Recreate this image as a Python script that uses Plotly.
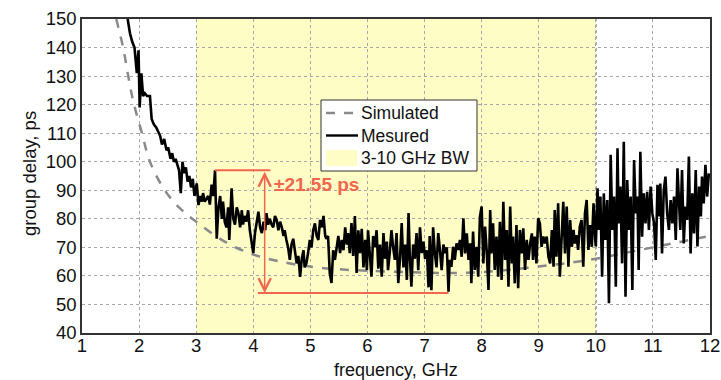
import plotly.graph_objects as go

# ---------------- data ----------------
sim_freq = [1.60, 1.72, 1.81, 1.90, 2.05, 2.19, 2.45, 2.70, 3.00, 3.50, 4.00, 4.60, 5.20,
            6.00, 7.00, 7.50, 8.00, 8.50, 9.00, 9.50, 10.0, 10.5, 11.0, 11.5, 12.0]
sim_delay = [150, 140, 130, 121, 110, 100, 90, 84, 79, 72, 67.5, 64.5, 62.8,
             61.8, 61.2, 61.0, 61.3, 62.2, 63.3, 64.5, 66.0, 68.0, 70.0, 72.0, 74.0]

meas_freq_a = [1.80, 1.84, 1.88, 1.92, 1.96, 1.99, 2.01, 2.04, 2.07, 2.10, 2.14, 2.19, 2.22,
               2.26, 2.30, 2.34, 2.37, 2.40, 2.44, 2.48, 2.51, 2.55, 2.58, 2.61, 2.64, 2.67,
               2.70, 2.73, 2.76, 2.79, 2.82, 2.85, 2.88, 2.91, 2.94, 2.97]
meas_delay_a = [150, 145, 142, 140, 131, 139, 119, 131, 123, 124, 123, 123, 115,
                113, 112, 110, 109, 106, 108, 104, 105, 101, 103, 100, 101, 99,
                97, 89, 100, 96, 98, 93, 95, 91, 94, 88]

meas_freq_b = [3.01, 3.04, 3.07, 3.10, 3.12, 3.15, 3.18, 3.21, 3.24, 3.27, 3.30, 3.33, 3.36,
               3.39, 3.42, 3.45, 3.47, 3.50, 3.53, 3.56, 3.58, 3.62, 3.65, 3.68, 3.71, 3.74,
               3.77, 3.80, 3.82, 3.85, 3.88, 3.91, 3.94, 3.97, 4.00, 4.03, 4.06, 4.09, 4.12,
               4.15, 4.18, 4.21, 4.23, 4.26, 4.29, 4.32, 4.35, 4.38, 4.41, 4.44, 4.47, 4.50,
               4.53, 4.55, 4.58, 4.61, 4.64, 4.67, 4.70, 4.73, 4.76, 4.79, 4.82, 4.85, 4.88,
               4.90, 4.93, 4.96, 4.99, 5.02, 5.05, 5.08, 5.11, 5.14]
meas_delay_b = [92.4, 84.8, 88, 86, 89, 86, 87, 88, 85, 92, 88, 97, 73,
                84, 88, 80, 86, 79, 77, 84, 72.6, 90.7, 80, 78, 84, 82,
                77, 83, 78, 81, 79, 83, 76, 72.6, 68, 75, 79, 82.5, 77,
                75, 79, 76, 82, 78, 80, 78, 77, 81, 79.6, 76, 79, 77,
                74, 76, 72.6, 70, 65.6, 71, 73, 68, 64.4, 67, 59.7, 66, 69,
                63, 64.4, 68, 72.6, 70, 76, 78.4, 74, 72.6]

meas_freq_c = [5.17, 5.20, 5.23, 5.26, 5.28, 5.31, 5.34, 5.37, 5.40, 5.43, 5.46, 5.49, 5.52,
               5.55, 5.58, 5.61, 5.64, 5.66, 5.69, 5.72, 5.75, 5.78, 5.81, 5.84, 5.87, 5.90,
               5.93, 5.96, 5.99, 6.01, 6.04, 6.07, 6.10, 6.13, 6.16, 6.19, 6.22, 6.25, 6.28,
               6.31, 6.34, 6.36, 6.39, 6.42, 6.45, 6.48, 6.51, 6.54, 6.57, 6.60, 6.63, 6.66,
               6.69, 6.72, 6.74, 6.77, 6.80, 6.83, 6.86, 6.89, 6.92, 6.95, 6.98, 7.01, 7.04,
               7.07, 7.09, 7.12, 7.15, 7.18, 7.21, 7.24, 7.27, 7.30, 7.33, 7.36, 7.39, 7.42,
               7.44]
meas_delay_c = [79.6, 77, 81, 74, 73, 74, 61, 57.5, 69, 65.6, 70, 74, 68,
                72.6, 69, 77, 71, 75, 68, 78.5, 67, 81, 61, 76, 68, 76.5,
                63, 72.6, 62, 76, 68, 59.7, 74, 70, 76, 62.5, 71, 59.7, 75,
                66, 72, 62, 68, 76, 70, 65.6, 75, 57.5, 66, 78.5, 63, 71,
                58.6, 82, 68, 56.2, 71, 66, 75, 62, 77, 68, 72, 66, 69,
                56, 74, 55, 77, 68, 63, 75, 69, 62, 71, 68, 70, 54.5,
                65.6]

meas_freq_d = [7.47, 7.50, 7.53, 7.56, 7.59, 7.62, 7.65, 7.68, 7.71, 7.74, 7.77, 7.80, 7.82,
               7.85, 7.88, 7.91, 7.94, 7.97, 8.00, 8.03, 8.06, 8.09, 8.12, 8.15, 8.17, 8.20,
               8.23, 8.26, 8.29, 8.32, 8.35, 8.38, 8.41, 8.44, 8.47, 8.50, 8.53, 8.55, 8.58,
               8.61, 8.64, 8.67, 8.70, 8.73, 8.76, 8.79, 8.82, 8.85, 8.88, 8.90, 8.93, 8.96,
               8.99, 9.02, 9.05, 9.08, 9.11, 9.14, 9.17, 9.20, 9.23, 9.26, 9.28, 9.31, 9.34,
               9.37, 9.40, 9.43, 9.46, 9.49, 9.52, 9.55, 9.58, 9.61, 9.63, 9.66, 9.69, 9.72,
               9.75, 9.78, 9.81, 9.84, 9.87, 9.90, 9.93, 9.96, 9.99]
meas_delay_d = [63.2, 70.2, 65.6, 71.4, 69.1, 72.6, 66.7, 80.2, 67.9, 74.9, 65.6, 71.4, 57.4,
                75.5, 62.1, 70.2, 59.7, 80.8, 84.3, 64.4, 77.3, 68.5, 55.1, 83.1, 67.9, 78.4,
                62.1, 73.8, 59.7, 79, 58.6, 86, 65.6, 76.1, 56.2, 84.3, 64.4, 73.8, 57.4,
                77.8, 55.7, 76.1, 67.9, 76.7, 62.1, 72.6, 65.6, 71.4, 74.9, 65.6, 73.8, 64.4,
                80.2, 78.4, 70.2, 73.8, 71.4, 73.8, 66.7, 64.4, 76.1, 63.2, 83.1, 66.7, 85.4,
                59.7, 71.4, 86, 67.9, 84.3, 63.2, 79.6, 70.2, 76.1, 71.4, 74.3, 69.1, 77.3,
                79.6, 63.2, 81.9, 86.6, 69.1, 77.8, 70.2, 85.4, 72.6]

meas_freq_e = [10.00, 10.03, 10.05, 10.08, 10.11, 10.14, 10.17, 10.20, 10.23, 10.26, 10.29,
               10.32, 10.35, 10.38, 10.40, 10.43, 10.46, 10.49, 10.52, 10.55, 10.58, 10.61,
               10.64, 10.67, 10.70, 10.73, 10.75, 10.78, 10.81, 10.84, 10.87, 10.90, 10.93,
               10.96, 10.99, 11.02, 11.05, 11.08, 11.11, 11.13, 11.16, 11.19, 11.22, 11.25,
               11.28, 11.31, 11.34, 11.37, 11.40, 11.43, 11.46, 11.48, 11.51, 11.54, 11.57,
               11.60, 11.63, 11.66, 11.69, 11.72, 11.75, 11.78, 11.81, 11.84, 11.86, 11.89,
               11.92, 11.95, 11.98]
meas_delay_e = [70.3, 90.7, 76.1, 87.8, 59.7, 88.9, 72.6, 86.6, 50.4, 102.4, 76.1,
                87.8, 56.2, 104.7, 78.4, 91.3, 64.4, 107, 52.7, 93.6, 76.1, 87.8,
                55.1, 100.6, 81.9, 87.8, 62.1, 103.5, 73.7, 88.9, 78.4, 89.5, 76.1,
                91.3, 81.9, 78.4, 65.6, 91.9, 80.8, 92.4, 67.9, 90.1, 94.8, 81.9,
                76.1, 86.6, 78.4, 87.8, 72.6, 97.7, 81.9, 76.1, 97.1, 71.4, 84.3,
                79.6, 101.8, 67.9, 88.9, 74.9, 97.1, 70.3, 91.3, 80.8, 94.8, 85.4,
                98.9, 87.8, 95.9]

meas_freq = meas_freq_a + meas_freq_b + meas_freq_c + meas_freq_d + meas_freq_e
meas_delay = meas_delay_a + meas_delay_b + meas_delay_c + meas_delay_d + meas_delay_e

band_start, band_end = 3, 10          # 3-10 GHz BW
ripple_top, ripple_bottom = 97, 54    # ps, annotated span
ripple_top_span = [3.33, 4.30]
ripple_bottom_span = [4.08, 7.42]
ripple_x = 4.20
ripple_label = "±21.55 ps"

legend_names = ["Simulated", "Mesured", "3-10 GHz BW"]
x_ticks = list(range(1, 13))
y_ticks = list(range(40, 151, 10))
x_title = "frequency, GHz"
y_title = "group delay, ps"

# ---------------- styling ----------------
RED = "#F2664E"
FONT = "Liberation Sans, Arial, sans-serif"
TXT = "#111111"
SIM_COLOR = "#8a8a8a"
BAND_COLOR = "#FFFDC6"

W, H = 721, 380
ML, MR, MT, MB = 82, 11, 19, 47
PW, PH = W - ML - MR, H - MT - MB


def px(xp):   # pixel x -> paper x
    return (xp - ML) / PW


def py(yp):   # pixel y -> paper y
    return (H - MB - yp) / PH


fig = go.Figure()

fig.add_trace(go.Scatter(
    x=sim_freq, y=sim_delay, name=legend_names[0], mode="lines", showlegend=False,
    line=dict(color=SIM_COLOR, width=2.5, dash="dash", shape="spline")))

fig.add_trace(go.Scatter(
    x=meas_freq, y=meas_delay, name=legend_names[1], mode="lines", showlegend=False,
    line=dict(color="black", width=2.6)))

# band shape (below grid)
fig.add_shape(type="rect", xref="x", yref="y", x0=band_start, x1=band_end,
              y0=40, y1=150, layer="below", line=dict(width=0), fillcolor=BAND_COLOR)
fig.add_shape(type="line", xref="x", yref="paper", x0=band_end, x1=band_end,
              y0=0, y1=1, layer="between", line=dict(color="#333333", width=1.2, dash="dot"))

# ripple annotation
fig.add_shape(type="line", xref="x", yref="y", x0=ripple_top_span[0], x1=ripple_top_span[1],
              y0=ripple_top, y1=ripple_top, line=dict(color=RED, width=2))
fig.add_shape(type="line", xref="x", yref="y", x0=ripple_bottom_span[0], x1=ripple_bottom_span[1],
              y0=ripple_bottom, y1=ripple_bottom, line=dict(color=RED, width=2))
fig.add_annotation(x=ripple_x, y=ripple_bottom, ax=ripple_x, ay=ripple_top,
                   xref="x", yref="y", axref="x", ayref="y", text="",
                   showarrow=True, arrowhead=5, startarrowhead=5, arrowside="end+start",
                   arrowsize=1.6, startarrowsize=1.6, arrowwidth=1.5, arrowcolor=RED)
fig.add_annotation(x=ripple_x + 0.12, y=92, xref="x", yref="y",
                   text="<b>" + ripple_label + "</b>",
                   showarrow=False, xanchor="left", yanchor="middle",
                   font=dict(family=FONT, size=19, color=RED))

# ---------------- legend box (drawn in paper coords) ----------------
fig.add_shape(type="rect", xref="paper", yref="paper",
              x0=px(321), x1=px(477), y0=py(171), y1=py(100),
              fillcolor="white", line=dict(color="#333333", width=1), layer="above")
fig.add_shape(type="line", xref="paper", yref="paper", x0=px(326), x1=px(358),
              y0=py(113), y1=py(113), line=dict(color=SIM_COLOR, width=2.5, dash="dash"),
              layer="above")
fig.add_shape(type="line", xref="paper", yref="paper", x0=px(326), x1=px(358),
              y0=py(135.5), y1=py(135.5), line=dict(color="black", width=2.4), layer="above")
fig.add_shape(type="rect", xref="paper", yref="paper", x0=px(326), x1=px(357),
              y0=py(166), y1=py(150), fillcolor=BAND_COLOR, line=dict(width=0), layer="above")
for name, yy in zip(legend_names, [113, 135.5, 158]):
    fig.add_annotation(x=px(359), y=py(yy), xref="paper", yref="paper", text=name,
                       showarrow=False, xanchor="left", yanchor="middle",
                       font=dict(family=FONT, size=17.5, color=TXT))

# axis titles
fig.add_annotation(x=0.5, y=py(370), xref="paper", yref="paper", text=x_title,
                   showarrow=False, xanchor="center", yanchor="middle",
                   font=dict(family=FONT, size=18, color=TXT))
fig.add_annotation(x=px(29), y=py(174), xref="paper", yref="paper", text=y_title,
                   showarrow=False, xanchor="center", yanchor="middle", textangle=-90,
                   font=dict(family=FONT, size=18.5, color=TXT))

axis_common = dict(showline=True, linecolor="#333333", linewidth=1.5, mirror=True,
                   showgrid=True, gridcolor="#a8a8a8", gridwidth=1, griddash="dot",
                   zeroline=False, automargin=False,
                   tickfont=dict(family=FONT, size=18.5, color=TXT))

fig.update_xaxes(range=[1, 12], tickvals=x_ticks, ticktext=[str(v) for v in x_ticks],
                 ticks="", ticklabelstandoff=-5, **axis_common)
fig.update_yaxes(range=[40, 150], tickvals=y_ticks, ticktext=[str(v) for v in y_ticks],
                 ticks="", **axis_common)

fig.update_layout(
    width=W, height=H,
    margin=dict(l=ML, r=MR, t=MT, b=MB, autoexpand=False),
    paper_bgcolor="white", plot_bgcolor="white",
    font=dict(family=FONT, color=TXT),
    showlegend=False,
)

# remove the browser's default 8px body margin so the figure fills the window
fig.write_html("out.html", config={"displayModeBar": False},
               post_script="document.body.style.margin='0';document.body.style.overflow='hidden';")
